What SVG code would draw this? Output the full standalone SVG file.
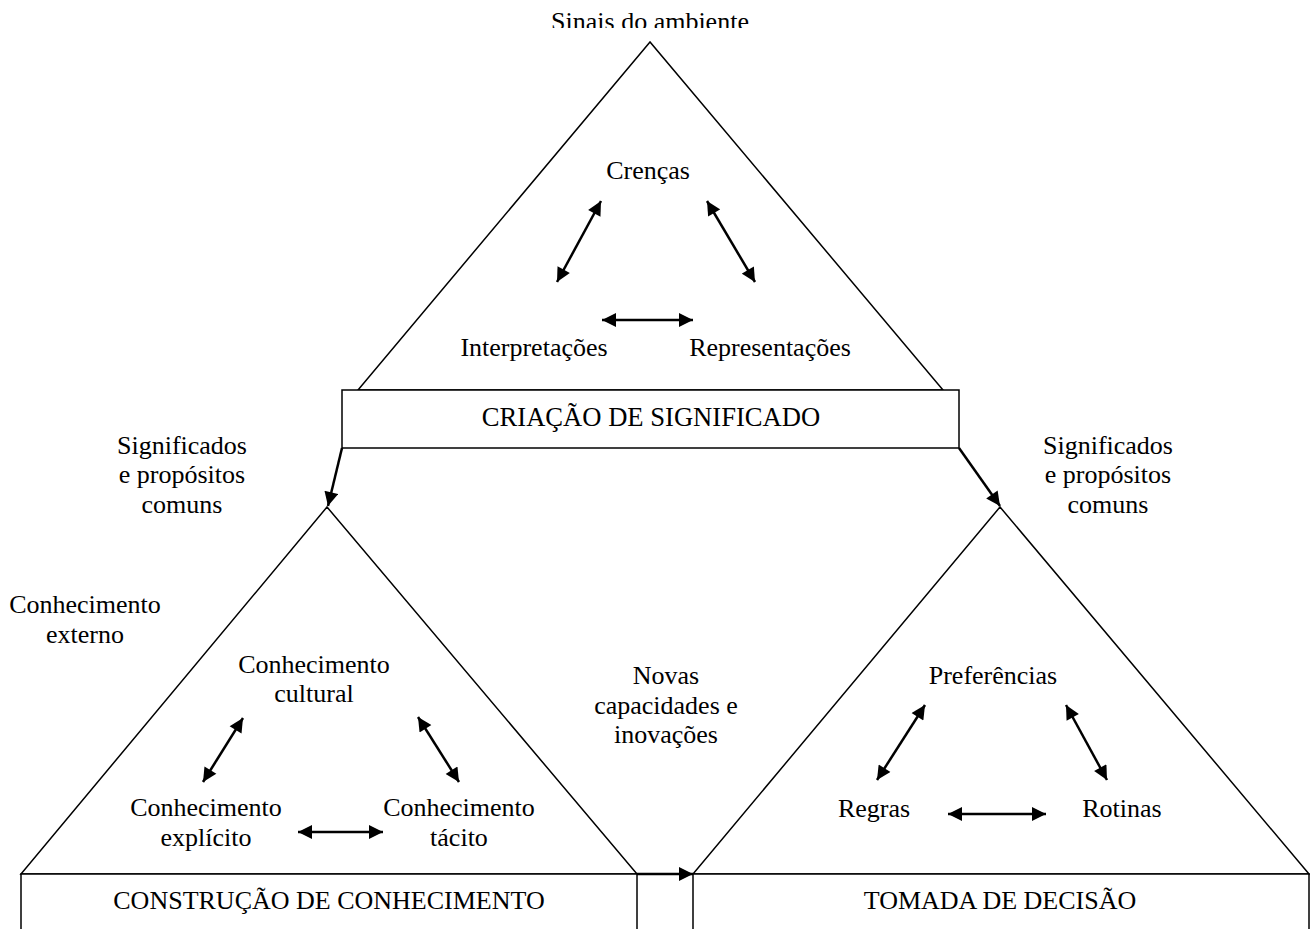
<svg xmlns="http://www.w3.org/2000/svg" width="1310" height="929" viewBox="0 0 1310 929">
  <style>
    text { font-family: "Liberation Serif", "Times New Roman", serif; font-size: 26px; fill: #000; text-anchor: middle; }
    .shape { fill: none; stroke: #000; stroke-width: 1.5; }
    .box { fill: #fff; stroke: #000; stroke-width: 1.5; }
    .conn { fill: none; stroke: #000; stroke-width: 2.5; }
  </style>
  <defs>
    <marker id="head" viewBox="0 0 10 10" refX="10" refY="5" markerWidth="6" markerHeight="5.6" orient="auto-start-reverse" markerUnits="strokeWidth">
      <path d="M0,0 L10,5 L0,10 z" fill="#000"/>
    </marker>
    <clipPath id="topClip"><rect x="0" y="0" width="1310" height="28"/></clipPath>
  </defs>

  <!-- Sense-making: upper triangle -->
  <g id="criacao">
    <text x="650" y="30" clip-path="url(#topClip)">Sinais do ambiente</text>
    <polygon class="shape" points="650,42 358,390 943,390"/>
    <rect class="box" x="342" y="390" width="617" height="58"/>
    <text x="651" y="426" style="font-size:26.6px">CRIAÇÃO DE SIGNIFICADO</text>
    <text x="648" y="179">Crenças</text>
    <text x="534" y="356">Interpretações</text>
    <text x="770" y="356">Representações</text>
    <line class="conn" x1="601" y1="201" x2="557" y2="282" marker-start="url(#head)" marker-end="url(#head)"/>
    <line class="conn" x1="707" y1="201" x2="755" y2="282" marker-start="url(#head)" marker-end="url(#head)"/>
    <line class="conn" x1="602" y1="320" x2="693" y2="320" marker-start="url(#head)" marker-end="url(#head)"/>
  </g>

  <!-- Knowledge building: lower-left triangle -->
  <g id="construcao">
    <polygon class="shape" points="327,507 21,874 637,874"/>
    <rect class="box" x="21" y="874" width="616" height="70"/>
    <text x="329" y="909">CONSTRUÇÃO DE CONHECIMENTO</text>
    <text x="314" y="673">Conhecimento</text>
    <text x="314" y="702">cultural</text>
    <text x="206" y="816">Conhecimento</text>
    <text x="206" y="846">explícito</text>
    <text x="459" y="816">Conhecimento</text>
    <text x="459" y="846">tácito</text>
    <line class="conn" x1="243" y1="718" x2="203" y2="782" marker-start="url(#head)" marker-end="url(#head)"/>
    <line class="conn" x1="418" y1="717" x2="459" y2="782" marker-start="url(#head)" marker-end="url(#head)"/>
    <line class="conn" x1="298" y1="832" x2="383" y2="832" marker-start="url(#head)" marker-end="url(#head)"/>
  </g>

  <!-- Decision making: lower-right triangle -->
  <g id="decisao">
    <polygon class="shape" points="1000,507 693,874 1309,874"/>
    <rect class="box" x="693" y="874" width="616" height="70"/>
    <text x="1000" y="909">TOMADA DE DECISÃO</text>
    <text x="993" y="684">Preferências</text>
    <text x="874" y="817">Regras</text>
    <text x="1122" y="817">Rotinas</text>
    <line class="conn" x1="925" y1="705" x2="877" y2="780" marker-start="url(#head)" marker-end="url(#head)"/>
    <line class="conn" x1="1066" y1="705" x2="1107" y2="780" marker-start="url(#head)" marker-end="url(#head)"/>
    <line class="conn" x1="948" y1="814" x2="1046" y2="814" marker-start="url(#head)" marker-end="url(#head)"/>
  </g>

  <!-- Free labels -->
  <g id="labels">
    <text x="182" y="454">Significados</text>
    <text x="182" y="483">e propósitos</text>
    <text x="182" y="513">comuns</text>
    <text x="1108" y="454">Significados</text>
    <text x="1108" y="483">e propósitos</text>
    <text x="1108" y="513">comuns</text>
    <text x="85" y="613">Conhecimento</text>
    <text x="85" y="643">externo</text>
    <text x="666" y="684">Novas</text>
    <text x="666" y="714">capacidades e</text>
    <text x="666" y="743">inovações</text>
  </g>

  <!-- Connectors between the three stages -->
  <g id="connectors">
    <line class="conn" x1="342" y1="448" x2="328" y2="506" marker-end="url(#head)"/>
    <line class="conn" x1="959" y1="448" x2="1000" y2="506" marker-end="url(#head)"/>
    <line class="conn" x1="637" y1="874" x2="693" y2="874" marker-end="url(#head)"/>
  </g>
</svg>
